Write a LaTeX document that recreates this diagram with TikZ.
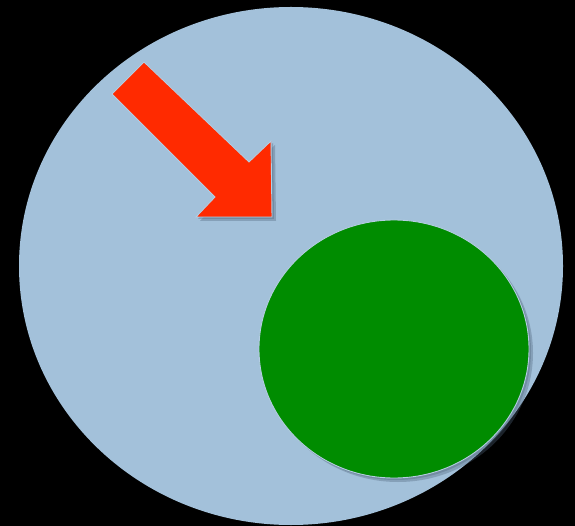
\documentclass[tikz,border=0pt]{standalone}
\usetikzlibrary{calc}
\definecolor{cellblue}{HTML}{A3C1DA}
\definecolor{nucleusgreen}{HTML}{008C00}
\definecolor{arrowred}{HTML}{FF2A00}
\definecolor{rimblue}{HTML}{B4CDE2}
\definecolor{shadeblue}{HTML}{4F647A}
\tikzstyle{rim} = [draw=rimblue,line width=0.9pt,line join=miter]
\tikzstyle{shade} = [fill=shadeblue,fill opacity=0.35]

\begin{document}
\begin{tikzpicture}[x=1pt,y=-1pt]
       \useasboundingbox (0,0) rectangle (575,526);
       \fill[black] (0,0) rectangle (575,526);
        % cell
        \fill[cellblue] (291,266) ellipse [x radius=272, y radius=259];

        % arrow with its shadow
        \foreach \d in {2,4}
        \fill[shade] ($(112,94)+(\d,\d)$) -- ($(144,62)+(\d,\d)$) -- ($(249,162)+(\d,\d)$) -- ($(271,141)+(\d,\d)$)
          -- ($(272,217)+(\d,\d)$) -- ($(196,217)+(\d,\d)$) -- ($(215,197)+(\d,\d)$) -- cycle;
        \filldraw[rim,fill=arrowred] (112,94) -- (144,62) -- (249,162) -- (271,141)
          -- (272,217) -- (196,217) -- (215,197) -- cycle;

        % nucleus with its shadow
        \foreach \d in {2,4}
        \fill[shade] (394+\d,349+\d) ellipse [x radius=135, y radius=129];
        \filldraw[rim,fill=nucleusgreen] (394,349) ellipse [x radius=135, y radius=129];
    \end{tikzpicture}
\end{document}
